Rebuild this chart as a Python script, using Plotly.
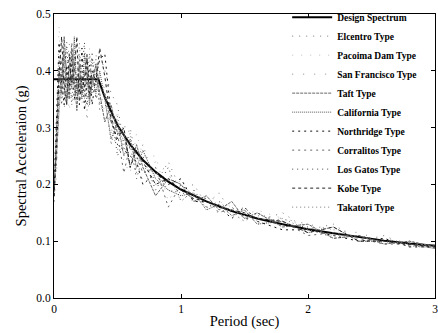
import plotly.graph_objects as go

period = [0, 0.02, 0.04, 0.06, 0.08, 0.10, 0.12, 0.14, 0.16, 0.18, 0.20, 0.22, 0.24, 0.26, 0.28,
          0.30, 0.33, 0.36, 0.40, 0.45, 0.50, 0.55, 0.60, 0.65, 0.70, 0.80, 0.90, 1.0, 1.1, 1.2,
          1.3, 1.4, 1.5, 1.6, 1.8, 2.0, 2.2, 2.4, 2.6, 2.8, 3.0]

design_T = [0, 0.35, 0.40, 0.50, 0.60, 0.70, 0.80, 0.90, 1.0, 1.2, 1.4, 1.6, 1.8, 2.0, 2.2, 2.4, 2.6, 2.8, 3.0]
design_sa = [0.385, 0.385, 0.353, 0.304, 0.270, 0.243, 0.222, 0.205, 0.191, 0.170, 0.153, 0.140,
             0.130, 0.121, 0.114, 0.107, 0.101, 0.096, 0.092]

elcentro = [0.18, 0.26, 0.34, 0.41, 0.36, 0.44, 0.38, 0.35, 0.42, 0.37, 0.45, 0.36, 0.40, 0.33, 0.39,
            0.42, 0.37, 0.43, 0.40, 0.36, 0.34, 0.27, 0.30, 0.24, 0.27, 0.20, 0.24, 0.19, 0.20, 0.165,
            0.185, 0.15, 0.16, 0.135, 0.15, 0.12, 0.13, 0.10, 0.11, 0.09, 0.09]
pacoima = [0.19, 0.30, 0.48, 0.35, 0.42, 0.37, 0.33, 0.40, 0.36, 0.43, 0.38, 0.34, 0.41, 0.37, 0.44,
           0.36, 0.40, 0.35, 0.33, 0.29, 0.33, 0.24, 0.22, 0.29, 0.25, 0.25, 0.17, 0.21, 0.165, 0.18,
           0.17, 0.16, 0.145, 0.155, 0.14, 0.125, 0.12, 0.10, 0.105, 0.098, 0.088]
sanfrancisco = [0.17, 0.22, 0.37, 0.44, 0.33, 0.39, 0.45, 0.36, 0.34, 0.40, 0.35, 0.42, 0.37, 0.31, 0.36,
                0.40, 0.43, 0.38, 0.37, 0.30, 0.26, 0.31, 0.26, 0.22, 0.21, 0.24, 0.22, 0.17, 0.19, 0.16,
                0.15, 0.16, 0.15, 0.145, 0.14, 0.13, 0.12, 0.115, 0.10, 0.09, 0.09]
taft = [0.18, 0.28, 0.40, 0.36, 0.46, 0.39, 0.35, 0.44, 0.38, 0.33, 0.41, 0.36, 0.39, 0.43, 0.35,
        0.38, 0.41, 0.36, 0.31, 0.34, 0.29, 0.29, 0.23, 0.27, 0.23, 0.18, 0.21, 0.20, 0.17, 0.18,
        0.155, 0.17, 0.14, 0.15, 0.125, 0.13, 0.105, 0.11, 0.095, 0.10, 0.09]
california = [0.20, 0.25, 0.33, 0.39, 0.43, 0.35, 0.41, 0.37, 0.46, 0.36, 0.39, 0.35, 0.43, 0.38, 0.34,
              0.39, 0.36, 0.40, 0.35, 0.28, 0.31, 0.25, 0.28, 0.23, 0.26, 0.21, 0.19, 0.18, 0.185, 0.155,
              0.165, 0.145, 0.155, 0.13, 0.135, 0.115, 0.125, 0.10, 0.10, 0.095, 0.087]
northridge = [0.19, 0.32, 0.45, 0.38, 0.34, 0.41, 0.37, 0.42, 0.35, 0.39, 0.36, 0.44, 0.33, 0.38, 0.41,
              0.34, 0.39, 0.42, 0.43, 0.32, 0.27, 0.26, 0.25, 0.24, 0.20, 0.22, 0.20, 0.21, 0.17, 0.17,
              0.16, 0.14, 0.16, 0.135, 0.12, 0.12, 0.11, 0.10, 0.105, 0.09, 0.09]
corralitos = [0.18, 0.24, 0.36, 0.42, 0.38, 0.34, 0.40, 0.45, 0.37, 0.35, 0.42, 0.38, 0.36, 0.40, 0.37,
              0.43, 0.35, 0.37, 0.36, 0.31, 0.29, 0.22, 0.27, 0.25, 0.22, 0.23, 0.16, 0.20, 0.18, 0.175,
              0.15, 0.16, 0.14, 0.14, 0.135, 0.11, 0.115, 0.105, 0.095, 0.095, 0.093]
losgatos = [0.17, 0.29, 0.42, 0.34, 0.40, 0.45, 0.36, 0.39, 0.43, 0.35, 0.37, 0.40, 0.45, 0.34, 0.38,
            0.36, 0.42, 0.33, 0.34, 0.33, 0.25, 0.28, 0.27, 0.21, 0.25, 0.19, 0.23, 0.17, 0.19, 0.16,
            0.17, 0.15, 0.135, 0.15, 0.13, 0.125, 0.105, 0.11, 0.10, 0.092, 0.088]
kobe = [0.18, 0.27, 0.39, 0.46, 0.37, 0.34, 0.43, 0.38, 0.40, 0.46, 0.34, 0.39, 0.37, 0.42, 0.36,
        0.40, 0.38, 0.44, 0.39, 0.31, 0.28, 0.30, 0.23, 0.26, 0.24, 0.20, 0.21, 0.19, 0.175, 0.17,
        0.16, 0.155, 0.15, 0.14, 0.135, 0.115, 0.125, 0.10, 0.10, 0.094, 0.09]
takatori = [0.20, 0.31, 0.35, 0.40, 0.44, 0.36, 0.39, 0.34, 0.41, 0.38, 0.43, 0.37, 0.35, 0.39, 0.43,
            0.37, 0.40, 0.34, 0.36, 0.27, 0.32, 0.26, 0.29, 0.22, 0.23, 0.22, 0.19, 0.185, 0.18, 0.16,
            0.165, 0.145, 0.155, 0.13, 0.14, 0.12, 0.11, 0.11, 0.095, 0.10, 0.09]

records = [
    ("Elcentro Type", elcentro, "#777777", "1px,6px"),
    ("Pacoima Dam Type", pacoima, "#bbbbbb", "1px,8px"),
    ("San Francisco Type", sanfrancisco, "#888888", "1px,10px"),
    ("Taft Type", taft, "#666666", "3px,1px"),
    ("California Type", california, "#555555", "1px,1px"),
    ("Northridge Type", northridge, "#111111", "2px,4px"),
    ("Corralitos Type", corralitos, "#666666", "2px,4px"),
    ("Los Gatos Type", losgatos, "#444444", "1px,4px"),
    ("Kobe Type", kobe, "#222222", "3px,3px"),
    ("Takatori Type", takatori, "#777777", "1px,3px"),
]

fig = go.Figure()
fig.add_trace(go.Scatter(x=design_T, y=design_sa, mode="lines", name="<b>Design Spectrum</b>",
                         line=dict(color="black", width=2), legendgroup="g0"))
for i, (name, vals, col, dash) in enumerate(records):
    fig.add_trace(go.Scatter(x=period, y=vals, mode="lines", name="<b>" + name + "</b>",
                             line=dict(color=col, width=1, dash=dash), legendgroup="g%d" % (i + 1)))

fig.update_layout(
    width=438, height=333,
    margin=dict(l=54, r=3, t=14, b=35),
    paper_bgcolor="white", plot_bgcolor="white",
    font=dict(family="Liberation Serif", color="black"),
    showlegend=True,
    legend=dict(x=0.612, y=1.04, xanchor="left", yanchor="top", bgcolor="rgba(0,0,0,0)",
                font=dict(size=9.5, family="Liberation Serif", color="black"),
                tracegroupgap=0, itemwidth=40, maxheight=330),
)
fig.update_xaxes(range=[0, 3], tickvals=[0, 1, 2, 3], ticktext=["0", "1", "2", "3"],
                 showline=True, linecolor="black", linewidth=1, mirror="ticks",
                 ticks="inside", ticklen=4, tickcolor="black", showgrid=False, zeroline=False,
                 ticklabeloverflow="allow", automargin=False,
                 tickfont=dict(size=11.5, family="Liberation Serif"),
                 title=dict(text="Period (sec)", font=dict(size=14.5, family="Liberation Serif"), standoff=2))
fig.update_yaxes(range=[0, 0.5], tickvals=[0, 0.1, 0.2, 0.3, 0.4, 0.5],
                 ticktext=["0.0", "0.1", "0.2", "0.3", "0.4", "0.5"],
                 showline=True, linecolor="black", linewidth=1, mirror="ticks",
                 ticks="inside", ticklen=4, tickcolor="black", showgrid=False, zeroline=False,
                 tickfont=dict(size=11.5, family="Liberation Serif"),
                 title=dict(text="Spectral Acceleraion (g)", font=dict(size=14.5, family="Liberation Serif"), standoff=6))

fig.write_html("out.html")
